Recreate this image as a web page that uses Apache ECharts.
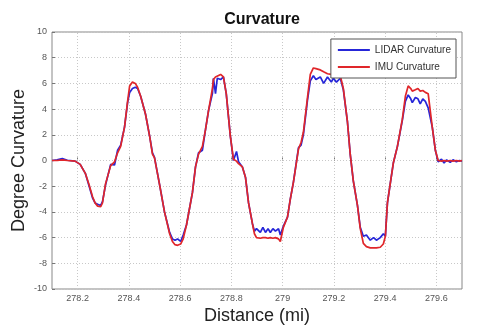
<!DOCTYPE html>
<html><head><meta charset="utf-8">
<script src="https://cdn.jsdelivr.net/npm/echarts@6/dist/echarts.min.js"></script>
<style>html,body{margin:0;padding:0;background:#fff}#c{width:504px;height:330px}</style>
</head><body><div id="c"></div>
<script>
const distance = [278.10,278.12,278.14,278.16,278.19,278.21,278.23,278.245,278.258,278.268,278.278,278.29,278.297,278.309,278.329,278.344,278.356,278.368,278.383,278.395,278.403,278.414,278.425,278.434,278.446,278.465,278.481,278.492,278.5,278.52,278.539,278.559,278.57,278.58,278.59,278.602,278.612,278.625,278.648,278.66,278.672,278.687,278.699,278.711,278.726,278.73,278.738,278.745,278.758,278.769,278.78,278.796,278.808,278.82,278.828,278.843,278.855,278.867,278.882,278.89,278.898,278.913,278.923,278.933,278.943,278.952,278.962,278.972,278.984,278.991,279.003,279.019,279.03,279.042,279.062,279.072,279.081,279.097,279.108,279.12,279.13,279.147,279.16,279.175,279.19,279.198,279.21,279.225,279.237,279.253,279.264,279.276,279.292,279.303,279.315,279.327,279.342,279.355,279.366,279.381,279.393,279.401,279.409,279.42,279.432,279.448,279.467,279.479,279.49,279.5,279.506,279.518,279.528,279.537,279.547,279.557,279.568,279.584,279.596,279.607,279.62,279.63,279.64,279.654,279.665,279.678,279.69,279.70];
const imuCurvature = [0,0,0.05,0,-0.05,-0.3,-1.0,-1.9,-2.8,-3.3,-3.55,-3.6,-3.3,-1.8,-0.4,-0.1,0.6,1.1,2.6,4.6,5.8,6.1,6.0,5.7,5.0,3.6,1.9,0.5,0.2,-1.9,-4.0,-5.7,-6.3,-6.55,-6.6,-6.5,-6.1,-5.0,-2.5,-0.5,0.5,1.1,2.4,3.9,5.6,6.3,6.5,6.6,6.7,6.5,5.2,1.9,0.1,-0.05,-0.25,-0.5,-1.3,-3.3,-4.9,-5.7,-6.0,-6.05,-6.0,-6.0,-6.05,-6.0,-6.05,-6.0,-6.1,-6.3,-5.2,-4.4,-3.0,-1.7,0.9,1.4,2.2,4.9,6.7,7.2,7.15,7.05,6.9,6.75,6.7,6.7,6.7,6.6,5.6,3.0,0.45,-1.6,-3.5,-5.3,-6.45,-6.7,-6.8,-6.8,-6.8,-6.75,-6.5,-5.9,-3.3,-1.8,-0.2,1.1,3.2,5.0,5.8,5.6,5.4,5.5,5.6,5.4,5.45,5.3,5.2,2.6,0.8,0.0,-0.05,0.0,-0.05,0.0,-0.05,0,-0.05,0];
const lidarCurvature = [0,0.05,0.15,0.02,-0.05,-0.3,-1.0,-2.0,-2.9,-3.3,-3.4,-3.5,-3.2,-1.9,-0.3,-0.35,0.8,1.2,2.6,4.5,5.3,5.6,5.7,5.6,5.0,3.6,1.9,0.6,0.25,-1.9,-4.0,-5.6,-6.1,-6.2,-6.1,-6.3,-5.8,-5.0,-2.5,-0.5,0.6,0.8,2.4,3.9,5.2,6.4,5.2,6.4,6.3,6.5,5.2,1.9,0.0,0.7,-0.1,-0.5,-1.3,-3.3,-4.9,-5.5,-5.3,-5.6,-5.2,-5.6,-5.3,-5.6,-5.3,-5.5,-5.3,-5.8,-5.1,-4.4,-3.0,-1.7,1.0,1.2,2.0,4.7,6.2,6.6,6.3,6.5,6.0,6.5,6.1,6.4,6.1,6.4,5.5,3.0,0.45,-1.6,-3.5,-5.2,-5.9,-5.8,-6.2,-6.0,-6.2,-6.0,-5.7,-5.9,-3.3,-1.8,-0.2,1.1,3.1,4.6,5.1,4.8,4.5,4.9,4.8,4.4,4.8,4.6,4.1,2.6,0.8,-0.1,0.1,-0.2,0.05,-0.15,0.05,-0.1,0.0,-0.05];
const xTicks = [278.2,278.4,278.6,278.8,279.0,279.2,279.4,279.6];
const seriesNames = ['LIDAR Curvature','IMU Curvature'];

const chart = echarts.init(document.getElementById('c'));
const pairs = (ys) => distance.map((d,i)=>[d, ys[i]]);
const tickFont = {fontFamily:'Liberation Sans', fontSize:9, color:'#555'};
chart.setOption({
  animation:false,
  backgroundColor:'#fff',
  title:{text:'Curvature', left:257, top:7, textAlign:'center',
    textStyle:{fontFamily:'Liberation Sans', fontSize:16, fontWeight:'bold', color:'#111'}},
  legend:{orient:'vertical', right:48, top:39, itemWidth:32, itemHeight:2, itemGap:7, icon:'rect',
    backgroundColor:'#fff', borderColor:'#555', borderWidth:1, padding:[6,5,6,7],
    textStyle:{fontFamily:'Liberation Sans', fontSize:10, color:'#333'},
    data:seriesNames},
  grid:{left:52, right:42, top:32, bottom:41, show:true, borderColor:'#888', borderWidth:1,
    outerBoundsMode:'none', containLabel:false},
  xAxis:{type:'value', min:278.1, max:279.7,
    name:'Distance (mi)', nameLocation:'middle', nameGap:18, nameMoveOverlap:false,
    nameTextStyle:{fontFamily:'Liberation Sans', fontSize:18, color:'#222'},
    axisLine:{show:false},
    axisTick:{show:true, inside:true, length:3, customValues:xTicks, lineStyle:{color:'#777'}},
    axisLabel:{customValues:xTicks, ...tickFont, margin:5, formatter:v=>String(+v.toFixed(1))},
    splitLine:{show:false}},
  yAxis:{type:'value', min:-10, max:10, interval:2,
    name:'Degree Curvature', nameLocation:'middle', nameGap:24, nameRotate:90, nameMoveOverlap:false,
    nameTextStyle:{fontFamily:'Liberation Sans', fontSize:18, color:'#222'},
    axisLine:{show:false},
    axisTick:{show:true, inside:true, length:3, lineStyle:{color:'#777'}},
    axisLabel:{...tickFont, margin:5},
    splitLine:{show:true, lineStyle:{color:'#c8c8c8', type:[1,2], width:1}}},
  series:[
    {name:seriesNames[0], type:'line', data:pairs(lidarCurvature), symbol:'none', z:2,
      lineStyle:{color:'#2626d8', width:1.7}, itemStyle:{color:'#2626d8'},
      markLine:{silent:true, symbol:'none', label:{show:false}, z:1,
        lineStyle:{color:'#c8c8c8', type:[1,2], width:1},
        data:xTicks.map(v=>({xAxis:v}))}},
    {name:seriesNames[1], type:'line', data:pairs(imuCurvature), symbol:'none', z:3,
      lineStyle:{color:'#e0262a', width:1.7}, itemStyle:{color:'#e0262a'}}
  ]
});
</script></body></html>
